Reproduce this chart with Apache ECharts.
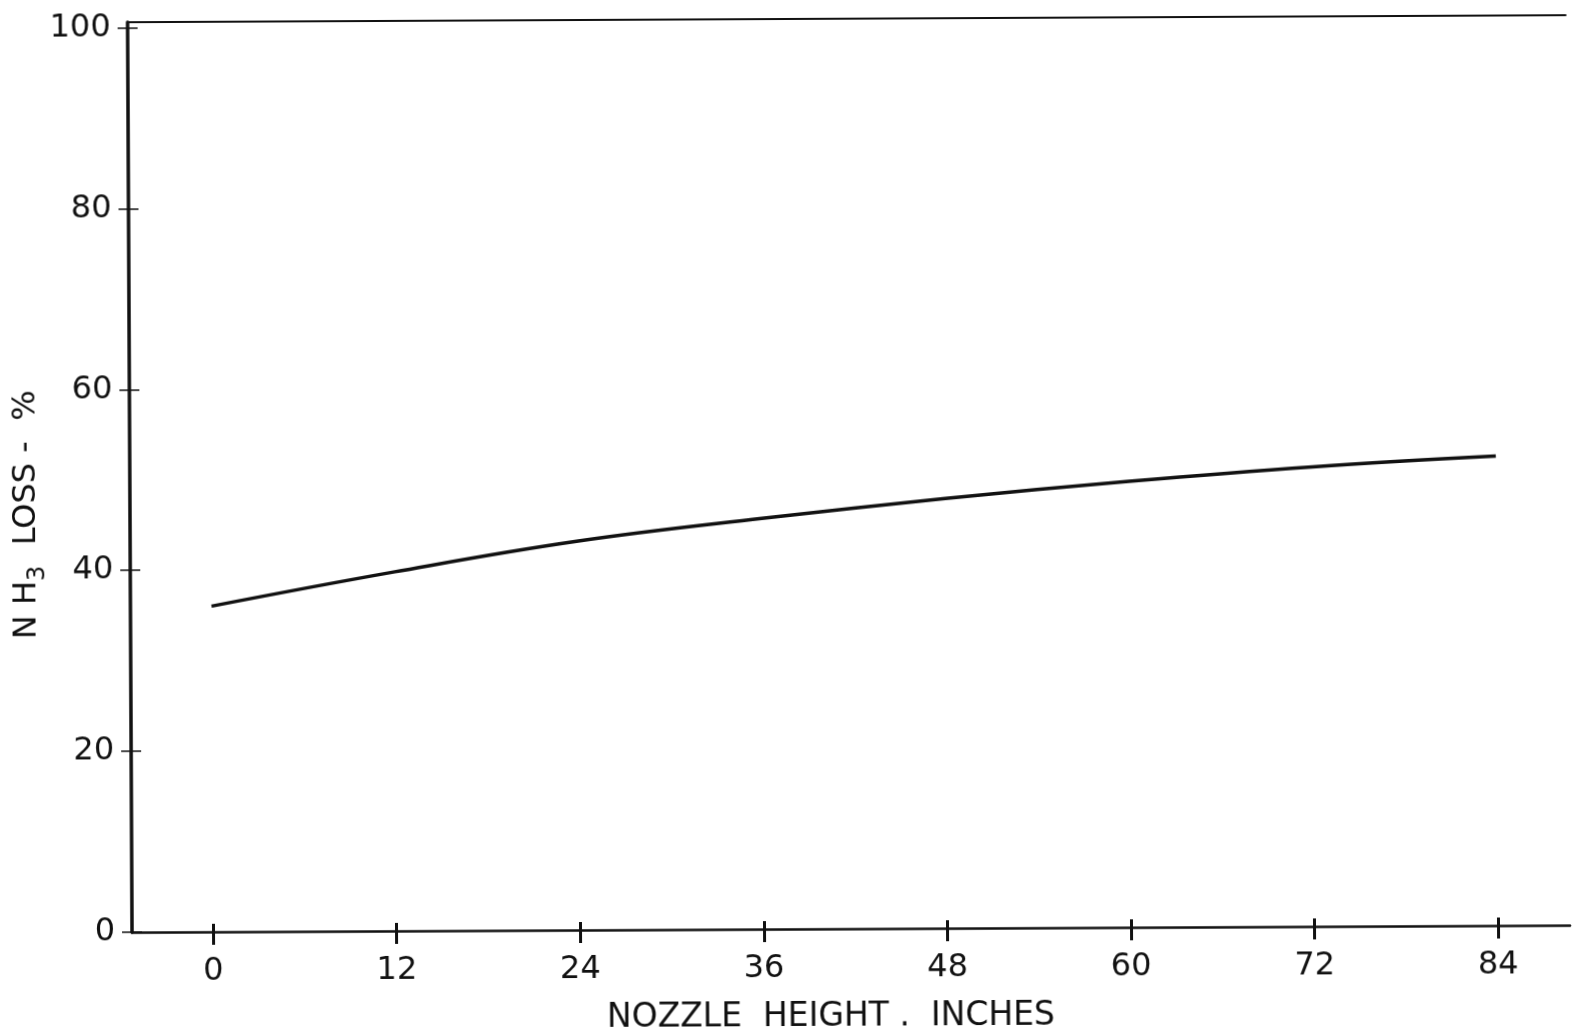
<!DOCTYPE html>
<html>
<head>
<meta charset="utf-8">
<title>NH3 loss vs nozzle height</title>
<script src="https://cdn.jsdelivr.net/npm/echarts@6/dist/echarts.min.js"></script>
<style>
  html, body { margin: 0; padding: 0; background: #fff; width: 1572px; height: 1030px; overflow: hidden; }
  #wrap { position: absolute; left: 0; top: 0; width: 1572px; height: 1030px; overflow: hidden; }
  #chart { width: 1572px; height: 1030px; transform: rotate(-0.28deg); transform-origin: 50% 50%; }
</style>
</head>
<body>
<div id="wrap"><div id="chart"></div></div>
<script>
// Nozzle height (inches) and ammonia loss (%) along the curve
const nozzleHeights = [0, 12, 24, 36, 48, 60, 72, 84];
const nh3Loss = [36.0, 39.7, 43.0, 45.4, 47.5, 49.3, 50.8, 51.9];

// Axis tick labels
const xTickValues = [0, 12, 24, 36, 48, 60, 72, 84];
const yTickValues = [0, 20, 40, 60, 80, 100];
const xRange = [-5.3, 88.7];
const yRange = [0, 100.6];

const ink = '#111';
const font = '"DejaVu Sans", sans-serif';

const chart = echarts.init(document.getElementById('chart'), null, { renderer: 'canvas' });

chart.setOption({
  backgroundColor: '#fff',
  animation: false,
  grid: { left: 130, right: 4, top: 19, bottom: 101, containLabel: false, outerBoundsMode: 'none' },
  xAxis: [
    {
      type: 'value',
      position: 'bottom',
      min: xRange[0],
      max: xRange[1],
      name: 'NOZZLE  HEIGHT .  INCHES',
      nameLocation: 'middle',
      nameGap: 72,
      nameMoveOverlap: false,
      nameTextStyle: { fontFamily: font, fontSize: 33, color: ink, padding: [0, 41, 0, 0] },
      axisLine: { show: true, onZero: false, lineStyle: { color: ink, width: 2.5 } },
      axisTick: { show: true, inside: false, length: 13, customValues: xTickValues, lineStyle: { color: ink, width: 3 } },
      axisLabel: { show: true, margin: 24, customValues: xTickValues, fontFamily: font, fontSize: 32, color: ink },
      splitLine: { show: false }
    },
    {
      // upper half of the crossing tick marks
      type: 'value',
      position: 'bottom',
      min: xRange[0],
      max: xRange[1],
      axisLine: { show: false, onZero: false },
      axisTick: { show: true, inside: true, length: 8, customValues: xTickValues, lineStyle: { color: ink, width: 3 } },
      axisLabel: { show: false },
      splitLine: { show: false }
    },
    {
      // top border of the frame
      type: 'value',
      position: 'top',
      min: xRange[0],
      max: xRange[1],
      axisLine: { show: true, onZero: false, lineStyle: { color: ink, width: 2 } },
      axisTick: { show: false },
      axisLabel: { show: false },
      splitLine: { show: false }
    }
  ],
  yAxis: [
    {
      type: 'value',
      position: 'left',
      min: yRange[0],
      max: yRange[1],
      name: '{n|N H}{s|3}{n|  LOSS -  %}',
      nameLocation: 'middle',
      nameGap: 80,
      nameRotate: 90,
      nameMoveOverlap: false,
      nameTextStyle: {
        fontFamily: font, fontSize: 32, color: ink, padding: [0, 74, 0, 0],
        rich: {
          n: { fontFamily: font, fontSize: 32, color: ink, verticalAlign: 'bottom', padding: [0, 0, 7, 0] },
          s: { fontFamily: font, fontSize: 24, color: ink, verticalAlign: 'bottom' }
        }
      },
      axisLine: { show: true, onZero: false, lineStyle: { color: ink, width: 3.5 } },
      axisTick: { show: true, inside: false, length: 10, customValues: yTickValues, lineStyle: { color: ink, width: 1.5 } },
      axisLabel: { show: true, margin: 17, customValues: yTickValues, fontFamily: font, fontSize: 32, color: ink },
      splitLine: { show: false }
    },
    {
      // right half of the crossing tick marks
      type: 'value',
      position: 'left',
      min: yRange[0],
      max: yRange[1],
      axisLine: { show: false, onZero: false },
      axisTick: { show: true, inside: true, length: 10, customValues: yTickValues, lineStyle: { color: ink, width: 1.5 } },
      axisLabel: { show: false },
      splitLine: { show: false }
    }
  ],
  series: [
    {
      type: 'line',
      xAxisIndex: 0,
      yAxisIndex: 0,
      data: nozzleHeights.map((h, i) => [h, nh3Loss[i]]),
      smooth: 0.4,
      showSymbol: false,
      lineStyle: { color: ink, width: 3.5 }
    }
  ]
});
</script>
</body>
</html>
